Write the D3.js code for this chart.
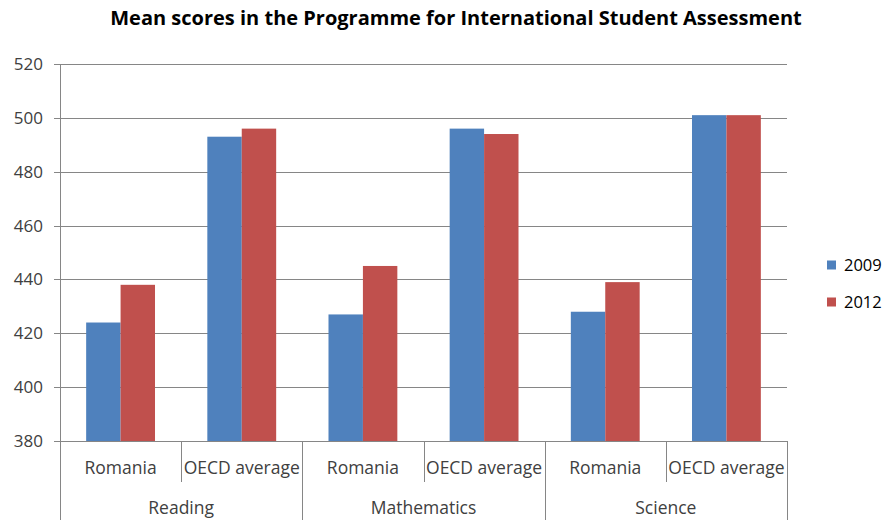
<!DOCTYPE html>
<html>
<head>
<meta charset="utf-8">
<script src="https://cdn.jsdelivr.net/npm/d3@7"></script>
<style>
body { margin: 0; background: #fff; }
text { font-family: "Open Sans", "Liberation Sans", sans-serif; fill: #404040; }
</style>
</head>
<body>
<script>
// chart data
var groups = ["Reading", "Mathematics", "Science"];
var countries = ["Romania", "OECD average"];
var years = ["2009", "2012"];
var scores2009 = [424, 493, 427, 496, 428, 501];
var scores2012 = [438, 496, 445, 494, 439, 501];
var yTicks = [380, 400, 420, 440, 460, 480, 500, 520];
var colors = ["#4F81BD", "#C0504D"];

var width = 888;
var height = 523;
var plotLeft = 60, plotRight = 787, plotTop = 64, plotBottom = 441;

var svg = d3.select("body").append("svg")
            .attr("width", width)
            .attr("height", height);

// build the flat category list
var cats = [];
groups.forEach(function(g, gi) {
    countries.forEach(function(c, ci) {
        cats.push({ key: g + "|" + c, group: g, country: c, vals: [scores2009[gi * 2 + ci], scores2012[gi * 2 + ci]] });
    });
});

var xScale = d3.scaleBand()
               .domain(cats.map(function(d) { return d.key; }))
               .range([plotLeft, plotRight])
               .paddingInner(0).paddingOuter(0);
var xInner = d3.scaleBand()
               .domain(years)
               .range([0, xScale.bandwidth()])
               .paddingInner(0)
               .paddingOuter(0.76);
var yScale = d3.scaleLinear()
               .domain([380, 520])
               .range([plotBottom, plotTop]);

// gridlines
svg.append("g").selectAll("line")
   .data(yTicks)
   .enter().append("line")
   .attr("x1", plotLeft - 6).attr("x2", plotRight)
   .attr("y1", function(d) { return Math.round(yScale(d)) + 0.5; })
   .attr("y2", function(d) { return Math.round(yScale(d)) + 0.5; })
   .attr("stroke", "#868686").attr("stroke-width", 1);

// y labels
svg.append("g").selectAll("text")
   .data(yTicks)
   .enter().append("text")
   .attr("x", plotLeft - 17)
   .attr("y", function(d) { return yScale(d); })
   .attr("dy", "0.35em")
   .attr("text-anchor", "end")
   .style("font-size", "17px")
   .text(function(d) { return d; });

// y axis line
svg.append("line")
   .attr("x1", plotLeft + 0.5).attr("x2", plotLeft + 0.5)
   .attr("y1", plotTop).attr("y2", 520)
   .attr("stroke", "#868686");

// bars
var catG = svg.append("g").selectAll("g")
   .data(cats)
   .enter().append("g")
   .attr("transform", function(d) { return "translate(" + xScale(d.key) + ",0)"; });

catG.selectAll("rect")
   .data(function(d) { return d.vals.map(function(v, i) { return { year: years[i], v: v, i: i }; }); })
   .enter().append("rect")
   .attr("x", function(d) { return xInner(d.year); })
   .attr("width", xInner.bandwidth())
   .attr("y", function(d) { return yScale(d.v); })
   .attr("height", function(d) { return yScale(380) - yScale(d.v); })
   .attr("fill", function(d) { return colors[d.i]; });

// category separators and labels
cats.forEach(function(d, i) {
    var x = xScale(d.key);
    var isGroupStart = i % 2 === 0;
    svg.append("line")
       .attr("x1", Math.round(x) + 0.5).attr("x2", Math.round(x) + 0.5)
       .attr("y1", plotBottom).attr("y2", isGroupStart ? 520 : 482)
       .attr("stroke", "#868686");
    svg.append("text")
       .attr("x", x + xScale.bandwidth() / 2)
       .attr("y", 468)
       .attr("dy", "0.35em")
       .attr("text-anchor", "middle")
       .style("font-size", "17.5px")
       .text(d.country);
});
svg.append("line")
   .attr("x1", plotRight + 0.5).attr("x2", plotRight + 0.5)
   .attr("y1", plotBottom).attr("y2", 520)
   .attr("stroke", "#868686");

groups.forEach(function(g) {
    var x0 = xScale(g + "|" + countries[0]);
    svg.append("text")
       .attr("x", x0 + xScale.bandwidth())
       .attr("y", 508)
       .attr("dy", "0.35em")
       .attr("text-anchor", "middle")
       .style("font-size", "17.5px")
       .text(g);
});

// title
svg.append("text")
   .attr("x", 456)
   .attr("y", 18)
   .attr("dy", "0.35em")
   .attr("text-anchor", "middle")
   .style("font-size", "20px")
   .style("font-weight", "bold")
   .style("fill", "#000")
   .text("Mean scores in the Programme for International Student Assessment");

// legend
var legend = svg.append("g").selectAll("g")
   .data(years)
   .enter().append("g")
   .attr("transform", function(d, i) { return "translate(827," + (265 + i * 37) + ")"; });
legend.append("rect")
   .attr("x", 0).attr("y", -4.5)
   .attr("width", 9).attr("height", 9)
   .attr("fill", function(d, i) { return colors[i]; });
legend.append("text")
   .attr("x", 17).attr("y", 0)
   .attr("dy", "0.35em")
   .style("font-size", "16.5px")
   .style("fill", "#000")
   .text(function(d) { return d; });
</script>
</body>
</html>
